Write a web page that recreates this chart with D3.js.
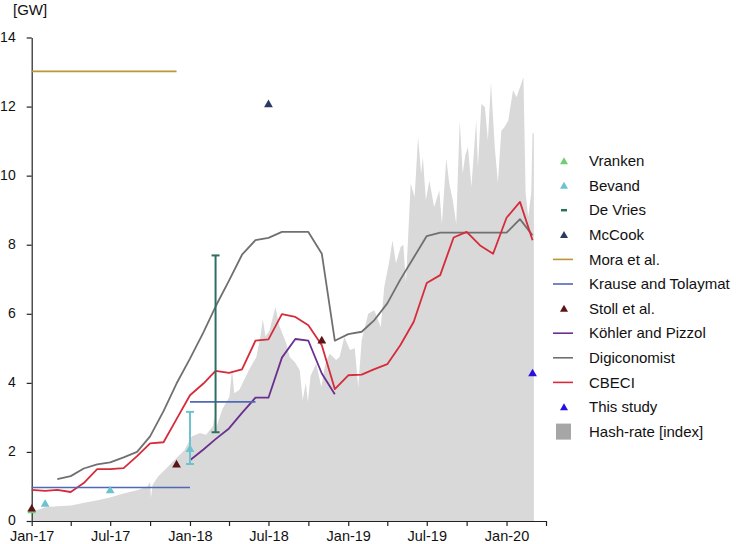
<!DOCTYPE html>
<html><head><meta charset="utf-8">
<script src="https://cdn.jsdelivr.net/npm/d3@7"></script>
<style>body{margin:0;background:#fff;} svg{display:block;font-family:"Liberation Sans",Arial,sans-serif;}</style>
</head><body><svg id="chart" width="736" height="544"></svg>
<script>
// ---------- DATA ----------
const months = ["2017-01","2017-02","2017-03","2017-04","2017-05","2017-06","2017-07","2017-08","2017-09","2017-10","2017-11","2017-12",
"2018-01","2018-02","2018-03","2018-04","2018-05","2018-06","2018-07","2018-08","2018-09","2018-10","2018-11","2018-12",
"2019-01","2019-02","2019-03","2019-04","2019-05","2019-06","2019-07","2019-08","2019-09","2019-10","2019-11","2019-12",
"2020-01","2020-02","2020-03"];
const cbeci = [0.90,0.87,0.90,0.84,1.10,1.50,1.50,1.53,1.88,2.25,2.28,2.95,3.64,3.98,4.35,4.29,4.39,5.22,5.26,5.99,5.91,5.67,5.09,3.82,4.22,4.24,4.39,4.54,5.09,5.77,6.89,7.12,8.21,8.37,7.98,7.74,8.78,9.24,8.13];
const digiconomist = [null,null,1.21,1.30,1.52,1.64,1.70,1.84,2.00,2.45,3.18,3.98,4.70,5.46,6.21,6.96,7.71,8.13,8.20,8.37,8.37,8.37,7.74,5.22,5.41,5.48,5.80,6.30,6.99,7.63,8.25,8.35,8.35,8.35,8.35,8.35,8.35,8.74,8.27];
const kohler = [null,null,null,null,null,null,null,null,null,null,null,null,1.76,2.07,2.37,2.68,3.13,3.57,3.57,4.73,5.27,5.22,4.27,3.67,null,null,null,null,null,null,null,null,null,null,null,null,null,null,null];

const krauseStart = ["2017-01","2018-01"];
const krauseEnd = ["2018-01","2018-06"];
const krauseValue = [0.97, 3.45];
const moraStart = ["2017-01"];
const moraEnd = ["2017-12"];
const moraValue = [13.02];

const vrankenDates = ["2017-01"];
const vrankenValues = [0.32];
const bevandDates = ["2017-02","2017-07","2018-01"];
const bevandValues = [0.51,0.90,2.10];
const bevandLow = [null,null,1.65];
const bevandHigh = [null,null,3.16];
const deVriesDates = ["2018-03"];
const deVriesLow = [2.57];
const deVriesHigh = [7.69];
const mccookDates = ["2018-07"];
const mccookValues = [12.08];
const stollDates = ["2017-01","2017-12","2018-11"];
const stollValues = [0.37,1.65,5.24];
const thisStudyDates = ["2020-03"];
const thisStudyValues = [4.29];

const hashDates = ["2017-01-01","2017-02-01","2017-03-01","2017-04-02","2017-05-02","2017-06-02","2017-06-30","2017-08-03","2017-09-03","2017-09-25",
"2017-10-01","2017-10-03","2017-10-07","2017-10-19","2017-11-19","2017-12-19","2018-01-05","2018-01-24","2018-02-07","2018-02-23",
"2018-02-26","2018-03-01","2018-03-17","2018-04-02","2018-04-08","2018-04-13","2018-04-25","2018-05-17","2018-06-03","2018-06-12",
"2018-06-18","2018-06-24","2018-07-03","2018-07-17","2018-07-26","2018-08-11","2018-08-19","2018-08-31","2018-09-11","2018-09-18",
"2018-09-25","2018-09-30","2018-10-06","2018-10-19","2018-10-31","2018-11-08","2018-11-19","2018-12-04","2018-12-12","2018-12-23",
"2019-01-05","2019-01-16","2019-01-24","2019-02-01","2019-02-16","2019-03-02","2019-03-17","2019-03-25","2019-04-06","2019-04-13",
"2019-04-21","2019-05-02","2019-05-08","2019-05-14","2019-05-25","2019-06-03","2019-06-11","2019-06-18","2019-06-22","2019-06-29",
"2019-07-07","2019-07-18","2019-07-30","2019-08-05","2019-08-15","2019-08-22","2019-08-30","2019-09-07","2019-09-15","2019-09-22",
"2019-09-28","2019-10-04","2019-10-12","2019-10-23","2019-10-27","2019-11-04","2019-11-12","2019-11-19","2019-11-26","2019-12-05",
"2019-12-12","2019-12-20","2019-12-27","2020-01-05","2020-01-16","2020-01-24","2020-02-01","2020-02-09","2020-02-14","2020-02-20",
"2020-02-27","2020-03-01","2020-03-04"];
const hashValues = [0.26,0.40,0.43,0.45,0.53,0.60,0.68,0.80,0.90,1.00,
1.14,0.67,1.05,1.28,1.67,2.05,2.45,2.55,2.50,2.75,
3.02,2.65,3.25,3.60,4.40,3.70,3.80,4.37,4.75,5.30,
5.85,5.35,5.50,6.20,5.65,5.15,4.75,4.60,4.37,3.50,
4.00,3.45,4.20,4.56,3.88,4.50,4.85,4.66,4.75,5.33,
4.95,5.00,3.88,5.24,6.00,6.10,5.62,6.78,7.55,8.13,
7.46,7.94,8.00,6.90,9.77,9.38,11.12,10.06,10.54,9.29,
9.86,9.09,9.57,8.60,10.50,9.77,9.29,8.60,11.60,10.06,
10.60,10.83,9.67,11.60,10.25,12.08,11.98,11.02,12.70,10.80,
9.80,11.30,11.40,11.60,12.47,12.27,12.56,12.85,9.50,8.80,
9.50,11.26,11.20];

const yTicks = [0,2,4,6,8,10,12,14];
const legendLabels = ["Vranken","Bevand","De Vries","McCook","Mora et al.","Krause and Tolaymat","Stoll et al.","Köhler and Pizzol","Digiconomist","CBECI","This study","Hash-rate [index]"];

// ---------- STYLE ----------
const C = {
  vranken:"#6fcf72", bevand:"#6cc3cf", devries:"#2f6e60", mccook:"#2b3966",
  mora:"#b8963a", krause:"#5169b5", stoll:"#5c1515", kohler:"#6a2f8f",
  digi:"#707070", cbeci:"#d62b3b", study:"#2a10e0", hash:"#d9d9d9", hashLegend:"#a6a6a6"
};

const parseM = d3.timeParse("%Y-%m");
const parseD = d3.timeParse("%Y-%m-%d");
const svg = d3.select("#chart");

const x = d3.scaleTime().domain([new Date(2017,0,1), new Date(2020,3,1)]).range([31.7, 546]);
const y = d3.scaleLinear().domain([0,14]).range([521, 37.5]);

// hash-rate area
const hashData = hashDates.map((d,i)=>({d:parseD(d), v:hashValues[i]}));
svg.append("path").datum(hashData)
  .attr("fill", C.hash)
  .attr("d", d3.area().x(d=>x(d.d)).y0(y(0)).y1(d=>y(d.v)));

// axes
const xAxis = d3.axisBottom(x)
  .tickValues(d3.timeMonth.every(3).range(new Date(2017,0,1), new Date(2020,3,2)))
  .tickSize(5).tickSizeOuter(0)
  .tickFormat(d => d.getMonth()%6===0 ? d3.timeFormat("%b-%y")(d) : "");
const gx = svg.append("g").attr("transform",`translate(0,${y(0)})`).call(xAxis);
gx.selectAll("text").attr("y",9.5).attr("dy","0.71em").style("font-size","14.5px").attr("fill","#111");
gx.selectAll("line, path").attr("stroke","#222").attr("stroke-width",1.2);

const yAxis = d3.axisLeft(y).tickValues(yTicks).tickSize(5).tickSizeOuter(0).tickPadding(11);
const gy = svg.append("g").attr("transform",`translate(${x.range()[0]},0)`).call(yAxis);
gy.selectAll("text").attr("dy","0.28em").style("font-size","14px").attr("fill","#111");
gy.selectAll("line, path").attr("stroke","#222").attr("stroke-width",1.2);

svg.append("text").attr("x",13).attr("y",15).text("[GW]").style("font-size","15px").attr("fill","#111");

// lines
function monthLine(vals, color, w){
  const data = months.map((m,i)=>({d:parseM(m), v:vals[i]}));
  svg.append("path").datum(data)
    .attr("fill","none").attr("stroke",color).attr("stroke-width",w).attr("stroke-linejoin","round")
    .attr("d", d3.line().defined(d=>d.v!=null).x(d=>x(d.d)).y(d=>y(d.v)));
}
monthLine(digiconomist, C.digi, 1.8);
monthLine(kohler, C.kohler, 1.8);
monthLine(cbeci, C.cbeci, 1.8);

// horizontal estimates
function hLines(starts, ends, vals, color){
  svg.append("g").selectAll("line").data(vals).join("line")
    .attr("x1",(v,i)=>x(parseM(starts[i]))).attr("x2",(v,i)=>x(parseM(ends[i])))
    .attr("y1",v=>y(v)).attr("y2",v=>y(v))
    .attr("stroke",color).attr("stroke-width",1.6);
}
hLines(krauseStart, krauseEnd, krauseValue, C.krause);
hLines(moraStart, moraEnd, moraValue, C.mora);

// error bars
function errBar(date, lo, hi, color){
  const g = svg.append("g").attr("stroke",color).attr("stroke-width",2);
  const xx = x(parseM(date));
  g.append("line").attr("x1",xx).attr("x2",xx).attr("y1",y(lo)).attr("y2",y(hi));
  g.append("line").attr("x1",xx-4).attr("x2",xx+4).attr("y1",y(lo)).attr("y2",y(lo));
  g.append("line").attr("x1",xx-4).attr("x2",xx+4).attr("y1",y(hi)).attr("y2",y(hi));
}
deVriesDates.forEach((d,i)=>errBar(d, deVriesLow[i], deVriesHigh[i], C.devries));
bevandDates.forEach((d,i)=>{ if(bevandLow[i]!=null) errBar(d, bevandLow[i], bevandHigh[i], C.bevand); });

// triangle markers
const tri = "M0,-4.2L4.4,3.4L-4.4,3.4Z";
function tris(dates, vals, color){
  svg.append("g").selectAll("path").data(vals).join("path")
    .attr("d",tri).attr("fill",color)
    .attr("transform",(v,i)=>`translate(${x(parseM(dates[i]))},${y(v)})`);
}
tris(vrankenDates, vrankenValues, C.vranken);
tris(bevandDates, bevandValues, C.bevand);
tris(mccookDates, mccookValues, C.mccook);
tris(stollDates, stollValues, C.stoll);
tris(thisStudyDates, thisStudyValues, C.study);

// legend
const legendTypes = ["tri","tri","dash","tri","line","line","tri","line","line","line","tri","box"];
const legendColors = [C.vranken,C.bevand,C.devries,C.mccook,C.mora,C.krause,C.stoll,C.kohler,C.digi,C.cbeci,C.study,C.hashLegend];
const lg = svg.append("g");
legendLabels.forEach((lab,i)=>{
  const cy = 161 + i*24.6;
  const t = legendTypes[i], col = legendColors[i];
  if(t==="tri") lg.append("path").attr("d","M0,-3.8L4,3.2L-4,3.2Z").attr("fill",col).attr("transform",`translate(564,${cy})`);
  else if(t==="dash") lg.append("line").attr("x1",561).attr("x2",567).attr("y1",cy).attr("y2",cy).attr("stroke",col).attr("stroke-width",2.5);
  else if(t==="line") lg.append("line").attr("x1",553).attr("x2",573).attr("y1",cy).attr("y2",cy).attr("stroke",col).attr("stroke-width",1.6);
  else lg.append("rect").attr("x",556).attr("y",cy-8).attr("width",15).attr("height",16).attr("fill",col);
  lg.append("text").attr("x",589).attr("y",cy).attr("dy","0.35em").text(lab).style("font-size","15px").attr("fill","#111");
});
</script></body></html>
